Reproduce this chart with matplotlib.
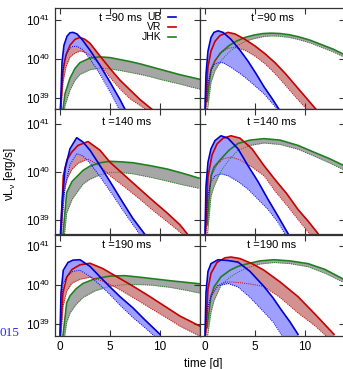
import numpy as np
import matplotlib
matplotlib.use("Agg")
from matplotlib import pyplot as plt

plt.rcParams['font.family'] = ['Liberation Sans', 'DejaVu Sans']
plt.rcParams['mathtext.default'] = 'regular'
plt.rcParams['font.size'] = 8.5

# log10(nu L_nu), upper (hi) and lower (lo) edge of each band
# t = 90 ms, left column
ub90a_t = [0.05, 0.2, 0.4, 0.7, 1.0, 1.3, 1.7, 2.2, 3.0, 4.0, 5.0, 6.0, 6.5]
ub90a_hi = [38.7, 39.9, 40.35, 40.58, 40.67, 40.68, 40.64, 40.5, 40.22, 39.83, 39.4, 38.95, 38.7]
ub90a_lo = [38.5, 39.4, 39.9, 40.15, 40.27, 40.32, 40.32, 40.25, 40.0, 39.6, 39.15, 38.65, 38.4]
vr90a_t = [0.05, 0.3, 0.6, 1.0, 1.5, 2.0, 2.5, 3.0, 4.0, 5.0, 6.0, 7.0, 8.0, 9.2]
vr90a_hi = [38.7, 39.7, 40.1, 40.35, 40.5, 40.55, 40.5, 40.4, 40.07, 39.75, 39.45, 39.2, 38.95, 38.7]
vr90a_lo = [38.5, 39.4, 39.8, 40.05, 40.15, 40.2, 40.17, 40.1, 39.85, 39.52, 39.22, 38.97, 38.8, 38.6]
jhk90a_t = [0.3, 0.5, 1.0, 1.5, 2.0, 3.0, 4.0, 5.0, 6.0, 7.0, 8.0, 9.0, 10.0, 11.0, 12.0, 13.0, 14.0]
jhk90a_hi = [38.7, 39.1, 39.5, 39.75, 39.9, 40.02, 40.05, 40.03, 39.98, 39.93, 39.87, 39.8, 39.73, 39.66, 39.59, 39.53, 39.47]
jhk90a_lo = [38.4, 38.8, 39.2, 39.45, 39.6, 39.72, 39.76, 39.74, 39.7, 39.65, 39.6, 39.54, 39.47, 39.41, 39.35, 39.28, 39.22]

# t = 90 ms, right column
ub90b_t = [0.0, 0.1, 0.3, 0.6, 0.9, 1.3, 1.8, 2.6, 3.5, 4.3, 5.1, 5.9, 6.7, 7.4]
ub90b_hi = [38.7, 39.6, 40.2, 40.55, 40.68, 40.72, 40.68, 40.5, 40.22, 39.94, 39.62, 39.28, 38.98, 38.7]
ub90b_lo = [38.5, 38.9, 39.4, 39.7, 39.85, 39.9, 39.9, 39.78, 39.62, 39.46, 39.28, 39.1, 38.86, 38.65]
vr90b_t = [0.05, 0.3, 0.6, 1.0, 1.5, 2.3, 3.0, 4.0, 5.0, 6.0, 7.0, 8.0, 9.0, 10.0, 11.1]
vr90b_hi = [38.9, 39.8, 40.2, 40.45, 40.6, 40.68, 40.64, 40.5, 40.33, 40.13, 39.9, 39.63, 39.33, 39.03, 38.7]
vr90b_lo = [38.6, 39.3, 39.7, 39.95, 40.15, 40.27, 40.3, 40.22, 40.07, 39.87, 39.62, 39.33, 39.03, 38.75, 38.45]
jhk90b_t = [0.2, 0.6, 1.0, 1.6, 2.4, 3.2, 4.0, 4.9, 5.8, 6.6, 7.5, 8.4, 9.3, 10.5, 11.6, 12.8, 14.0]
jhk90b_hi = [38.9, 39.72, 39.95, 40.16, 40.34, 40.46, 40.55, 40.61, 40.65, 40.66, 40.65, 40.62, 40.57, 40.48, 40.37, 40.25, 40.1]
jhk90b_lo = [38.6, 39.4, 39.7, 39.95, 40.17, 40.33, 40.45, 40.52, 40.57, 40.59, 40.58, 40.55, 40.5, 40.41, 40.3, 40.18, 40.03]

# t = 140 ms, left column
ub140a_t = [0.05, 0.17, 0.5, 1.0, 1.67, 2.3, 3.0, 4.0, 5.0, 6.3, 7.3, 8.5]
ub140a_hi = [38.7, 39.22, 40.06, 40.48, 40.71, 40.62, 40.45, 40.13, 39.8, 39.36, 39.03, 38.7]
ub140a_lo = [38.5, 38.9, 39.7, 40.15, 40.38, 40.33, 40.18, 39.9, 39.6, 39.2, 38.9, 38.55]
vr140a_t = [0.1, 0.33, 0.7, 1.17, 1.8, 2.8, 4.0, 5.0, 6.5, 8.0, 9.3, 10.7, 12.0, 12.7]
vr140a_hi = [38.8, 39.92, 40.25, 40.41, 40.55, 40.63, 40.45, 40.2, 39.92, 39.64, 39.4, 39.15, 38.9, 38.72]
vr140a_lo = [38.5, 39.5, 39.85, 40.05, 40.18, 40.27, 40.12, 39.92, 39.68, 39.43, 39.2, 38.97, 38.75, 38.6]
jhk140a_t = [0.3, 0.67, 1.2, 2.3, 3.0, 4.0, 5.0, 6.0, 7.3, 9.0, 10.7, 12.3, 13.9]
jhk140a_hi = [38.7, 39.57, 39.8, 40.03, 40.12, 40.19, 40.22, 40.21, 40.19, 40.13, 40.06, 39.97, 39.87]
jhk140a_lo = [38.4, 39.15, 39.43, 39.75, 39.85, 39.94, 39.99, 39.99, 39.96, 39.89, 39.81, 39.73, 39.66]

# t = 140 ms, right column
ub140b_t = [0.0, 0.1, 0.3, 0.6, 1.0, 1.6, 2.3, 3.3, 4.3, 5.3, 6.3, 7.3, 8.3]
ub140b_hi = [38.7, 39.7, 40.2, 40.48, 40.65, 40.75, 40.7, 40.48, 40.13, 39.8, 39.43, 39.08, 38.72]
ub140b_lo = [38.5, 39.0, 39.5, 39.8, 39.92, 39.96, 39.92, 39.8, 39.64, 39.43, 39.22, 38.95, 38.6]
vr140b_t = [0.05, 0.3, 0.7, 1.2, 1.8, 2.6, 3.5, 4.7, 5.9, 7.0, 8.2, 9.3, 10.3, 11.3]
vr140b_hi = [38.8, 39.9, 40.35, 40.58, 40.7, 40.75, 40.7, 40.48, 40.13, 39.84, 39.54, 39.22, 38.98, 38.72]
vr140b_lo = [38.5, 39.5, 39.95, 40.15, 40.27, 40.31, 40.25, 40.1, 39.92, 39.6, 39.3, 39.01, 38.75, 38.5]
jhk140b_t = [0.2, 0.6, 0.9, 1.6, 2.4, 3.3, 4.5, 5.9, 7.5, 9.3, 11.0, 12.5, 13.9]
jhk140b_hi = [38.9, 39.92, 40.1, 40.27, 40.45, 40.59, 40.66, 40.69, 40.66, 40.55, 40.4, 40.27, 40.13]
jhk140b_lo = [38.6, 39.5, 39.7, 40.02, 40.25, 40.45, 40.55, 40.6, 40.57, 40.47, 40.32, 40.18, 40.04]

# t = 190 ms, left column
ub190a_t = [0.0, 0.1, 0.33, 0.8, 1.3, 2.0, 3.0, 4.0, 5.0, 6.0, 7.3, 8.5, 10.0]
ub190a_hi = [38.7, 39.8, 40.38, 40.58, 40.64, 40.65, 40.48, 40.21, 39.95, 39.7, 39.41, 39.1, 38.73]
ub190a_lo = [38.5, 39.5, 40.05, 40.25, 40.35, 40.38, 40.22, 40.0, 39.75, 39.48, 39.16, 38.9, 38.55]
vr190a_t = [0.05, 0.3, 0.67, 1.2, 2.0, 3.0, 4.3, 5.7, 7.3, 9.0, 10.5, 12.0, 14.0]
vr190a_hi = [38.8, 39.8, 40.2, 40.4, 40.52, 40.56, 40.42, 40.21, 39.97, 39.7, 39.45, 39.2, 38.94]
vr190a_lo = [38.5, 39.45, 39.85, 40.05, 40.15, 40.2, 40.1, 39.92, 39.68, 39.41, 39.18, 38.94, 38.68]
jhk190a_t = [0.3, 0.67, 1.0, 1.6, 2.3, 3.5, 5.0, 6.5, 8.0, 9.0, 11.0, 12.5, 14.0]
jhk190a_hi = [38.7, 39.54, 39.72, 39.9, 40.04, 40.16, 40.23, 40.24, 40.2, 40.17, 40.11, 40.07, 40.03]
jhk190a_lo = [38.4, 39.05, 39.28, 39.5, 39.68, 39.85, 39.97, 40.01, 40.01, 40.0, 39.94, 39.87, 39.79]

# t = 190 ms, right column
ub190b_t = [0.0, 0.1, 0.3, 0.6, 1.3, 2.3, 3.3, 4.5, 5.9, 6.8, 7.6, 8.5, 9.3]
ub190b_hi = [38.7, 39.8, 40.35, 40.55, 40.65, 40.63, 40.59, 40.35, 39.96, 39.67, 39.37, 39.05, 38.73]
ub190b_lo = [38.5, 39.0, 39.45, 39.7, 39.98, 40.04, 39.95, 39.68, 39.3, 39.05, 38.73, 38.4, 38.2]
vr190b_t = [0.05, 0.3, 0.6, 1.2, 2.0, 2.6, 3.5, 4.7, 5.9, 7.5, 9.3, 11.0, 12.9]
vr190b_hi = [38.8, 39.9, 40.3, 40.58, 40.7, 40.72, 40.68, 40.55, 40.38, 40.08, 39.7, 39.25, 38.73]
vr190b_lo = [38.5, 39.4, 39.75, 39.98, 40.07, 40.08, 40.06, 40.02, 39.96, 39.68, 39.28, 38.95, 38.5]
jhk190b_t = [0.2, 0.6, 0.9, 1.6, 2.5, 3.3, 4.3, 5.5, 6.9, 8.5, 10.3, 12.0, 14.0]
jhk190b_hi = [38.9, 39.7, 39.95, 40.21, 40.38, 40.48, 40.55, 40.62, 40.65, 40.62, 40.55, 40.4, 40.13]
jhk190b_lo = [38.6, 39.3, 39.6, 40.0, 40.2, 40.33, 40.45, 40.54, 40.58, 40.55, 40.47, 40.3, 40.05]

times = ["90", "140", "190"]
bands = ["UB", "VR", "JHK"]
line_colors = {"UB": "#0000d0", "VR": "#c80000", "JHK": "#1f7f1f"}
fill_colors = {"UB": "#9f9fff", "VR": "#d39292", "JHK": "#a6a6a6"}

panels = {
    ("90", 0): [(ub90a_t, ub90a_hi, ub90a_lo), (vr90a_t, vr90a_hi, vr90a_lo), (jhk90a_t, jhk90a_hi, jhk90a_lo)],
    ("90", 1): [(ub90b_t, ub90b_hi, ub90b_lo), (vr90b_t, vr90b_hi, vr90b_lo), (jhk90b_t, jhk90b_hi, jhk90b_lo)],
    ("140", 0): [(ub140a_t, ub140a_hi, ub140a_lo), (vr140a_t, vr140a_hi, vr140a_lo), (jhk140a_t, jhk140a_hi, jhk140a_lo)],
    ("140", 1): [(ub140b_t, ub140b_hi, ub140b_lo), (vr140b_t, vr140b_hi, vr140b_lo), (jhk140b_t, jhk140b_hi, jhk140b_lo)],
    ("190", 0): [(ub190a_t, ub190a_hi, ub190a_lo), (vr190a_t, vr190a_hi, vr190a_lo), (jhk190a_t, jhk190a_hi, jhk190a_lo)],
    ("190", 1): [(ub190b_t, ub190b_hi, ub190b_lo), (vr190b_t, vr190b_hi, vr190b_lo), (jhk190b_t, jhk190b_hi, jhk190b_lo)],
}

W, H = 343, 369
fig = plt.figure(figsize=(W / 100, H / 100), dpi=100)

col_x = [(54.5, 199.5), (199.5, 344.5)]
row_y = [(8.3, 109.3), (109.3, 234.5), (234.5, 335.5)]
label_y = [0.905, 0.901, 0.896]
frame = "#333333"

for i_row, tm in enumerate(times):
    for i_col in range(2):
        x0, x1 = col_x[i_col]
        y0, y1 = row_y[i_row]
        ax = fig.add_axes([x0 / W, 1 - y1 / H, (x1 - x0) / W, (y1 - y0) / H])
        ax.set_yscale("log")
        handles = []
        # draw JHK first so blue/red sit on top
        for name, (t, hi, lo) in reversed(list(zip(bands, panels[(tm, i_col)]))):
            t = np.array(t)
            hi = 10 ** np.array(hi)
            lo = 10 ** np.array(lo)
            ax.fill_between(t, lo, hi, color=fill_colors[name], lw=0)
            h, = ax.plot(t, hi, color=line_colors[name], lw=1.2, label=name)
            ax.plot(t, lo, color=line_colors[name], lw=0.7, ls=(0, (1, 1.2)))
            handles.insert(0, h)
        ax.set_xlim(-0.55, 13.95)
        ax.set_ylim(10 ** 38.7, 10 ** 41.3)
        ax.set_xticks([0, 5, 10])
        ax.set_yticks([1e39, 1e40, 1e41])
        ax.yaxis.set_minor_locator(matplotlib.ticker.NullLocator())
        ax.tick_params(direction="in", length=4.5, width=0.8, color=frame,
                       top=True, right=True, labelsize=8.5, pad=3)
        ax.tick_params(axis="x", pad=4)
        for s in ax.spines.values():
            s.set_color(frame)
            s.set_linewidth(0.9)
        if i_col == 1:
            ax.set_yticklabels([])
        if i_row < 2:
            ax.set_xticklabels([])
        lx = 0.452 if (i_row == 0 and i_col == 0) else 0.5
        ax.text(lx, label_y[i_row], f"t ={tm} ms", transform=ax.transAxes,
                ha="center", va="center", fontsize=8)
        if i_row == 0 and i_col == 0:
            leg = ax.legend(handles=handles, loc="upper right", bbox_to_anchor=(0.838, 0.96),
                            frameon=False, markerfirst=False, borderpad=0, borderaxespad=0,
                            handlelength=0.8, handletextpad=0.6, labelspacing=0.0,
                            fontsize=7.5)
            for txt in leg.get_texts():
                txt.set_ha("right")

fig.text(10 / W, 1 - 174 / H, r"$\nu L_\nu$ [erg/s]", rotation=90,
         ha="center", va="center", fontsize=8.5)
fig.text(203 / W, 1 - 363.5 / H, "time [d]", ha="center", va="center", fontsize=8.5)
fig.text(0.0, 1 - 333 / H, "015", ha="left", va="center", color="#2a2aff",
         family="Liberation Serif", fontsize=9.5)

plt.savefig("out.png", dpi=100)
